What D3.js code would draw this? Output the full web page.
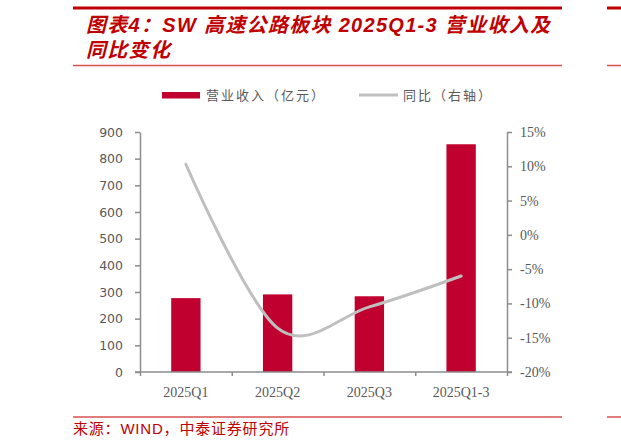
<!DOCTYPE html>
<html lang="zh">
<head>
<meta charset="utf-8">
<title>SW 高速公路板块</title>
<style>
  body { margin: 0; background: #fff; }
  svg { display: block; }
  .axis path, .axis line { fill: none; stroke: #8c8c8c; stroke-width: 1.5; }
</style>
</head>
<body>
<script src="https://cdn.jsdelivr.net/npm/d3@7/dist/d3.min.js"></script>
<script>
// data
var categories = ["2025Q1", "2025Q2", "2025Q3", "2025Q1-3"];
var revenue = [277, 291, 284, 854];          // 营业收入（亿元）
var yoy = [0.103, -0.136, -0.105, -0.060];    // 同比（右轴）
var leftTicks = [0, 100, 200, 300, 400, 500, 600, 700, 800, 900];
var rightTicks = [-0.20, -0.15, -0.10, -0.05, 0, 0.05, 0.10, 0.15];

var W = 621, H = 447;
var x0 = 140, x1 = 507, yTop = 132, yBot = 372;
var red = "#c00000", barRed = "#c0002f", grey = "#bfbfbf", txt = "#595959";

var svg = d3.select("body").append("svg").attr("width", W).attr("height", H);

// header / footer rules
function rule(xa, xb, y, w, c) {
  svg.append("line").attr("x1", xa).attr("x2", xb).attr("y1", y).attr("y2", y)
    .attr("stroke", c).attr("stroke-width", w);
}
rule(73, 562, 8, 3, red);
rule(73, 562, 65.5, 1.5, "#d6504f");
rule(73, 562, 417, 1.5, "#d6504f");
rule(607, 621, 8, 3, red);
rule(607, 621, 65.5, 1.5, "#d6504f");
rule(607, 621, 417, 1.5, "#d6504f");

var titleFont = "'Liberation Sans', 'Noto Sans CJK SC', sans-serif";
svg.append("text").attr("x", 86).attr("y", 32)
  .attr("font-family", titleFont).attr("font-size", 20).attr("font-weight", "bold")
  .attr("font-style", "italic").attr("fill", red).attr("letter-spacing", 1.3)
  .text("图表4：SW 高速公路板块 2025Q1-3 营业收入及");
svg.append("text").attr("x", 86).attr("y", 57)
  .attr("font-family", titleFont).attr("font-size", 20).attr("font-weight", "bold")
  .attr("font-style", "italic").attr("fill", red).attr("letter-spacing", 1.3)
  .text("同比变化");

svg.append("text").attr("x", 73).attr("y", 434)
  .attr("font-family", "'Liberation Sans', 'Noto Sans CJK SC', sans-serif")
  .attr("font-size", 15).attr("letter-spacing", 0.8).attr("fill", red)
  .text("来源：WIND，中泰证券研究所");

// scales
var x = d3.scaleBand().domain(categories).range([x0, x1]).paddingInner(0.68).paddingOuter(0.34);
var xb = d3.scaleLinear().domain([0, categories.length]).range([x0, x1]);
var yL = d3.scaleLinear().domain([0, 900]).range([yBot, yTop]);
var yR = d3.scaleLinear().domain([-0.20, 0.15]).range([yBot, yTop]);

// bars
svg.append("g").selectAll("rect").data(revenue).enter().append("rect")
  .attr("x", function(d, i) { return x(categories[i]); })
  .attr("y", function(d) { return yL(d); })
  .attr("width", x.bandwidth())
  .attr("height", function(d) { return yBot - yL(d); })
  .attr("fill", barRed);

// axes
var gl = svg.append("g").attr("class", "axis").attr("transform", "translate(" + x0 + ",0)")
  .call(d3.axisLeft(yL).tickValues(leftTicks).tickSize(5).tickSizeOuter(0).tickPadding(12));
gl.selectAll("text").attr("font-family", "'DejaVu Sans', sans-serif").attr("font-size", 12.5).attr("fill", txt);

var gr = svg.append("g").attr("class", "axis").attr("transform", "translate(" + x1 + ",0)")
  .call(d3.axisRight(yR).tickValues(rightTicks).tickSize(5).tickSizeOuter(0).tickPadding(8)
    .tickFormat(function(d) { return Math.round(d * 100) + "%"; }));
gr.selectAll("text").attr("font-family", "'Liberation Serif', serif").attr("font-size", 14).attr("fill", txt);

var gb = svg.append("g").attr("class", "axis").attr("transform", "translate(0," + yBot + ")")
  .call(d3.axisBottom(xb).tickValues(d3.range(categories.length + 1)).tickSize(4).tickSizeOuter(0).tickFormat(""));
gb.select("path.domain").attr("d", "M" + (x0 - 5) + ",0H" + (x1 + 5));

svg.append("g").selectAll("text").data(categories).enter().append("text")
  .attr("x", function(d) { return x(d) + x.bandwidth() / 2; })
  .attr("y", yBot + 25)
  .attr("text-anchor", "middle")
  .attr("font-family", "'Liberation Serif', serif").attr("font-size", 14).attr("fill", txt)
  .text(function(d) { return d; });

// yoy line
var line = d3.line()
  .x(function(d, i) { return x(categories[i]) + x.bandwidth() / 2; })
  .y(function(d) { return yR(d); })
  .curve(d3.curveCardinal.tension(0));
svg.append("path").datum(yoy).attr("d", line)
  .attr("fill", "none").attr("stroke", grey).attr("stroke-width", 3).attr("stroke-linecap", "round");

// legend
var lg = svg.append("g");
lg.append("rect").attr("x", 162).attr("y", 92).attr("width", 38).attr("height", 6.5).attr("fill", barRed);
lg.append("text").attr("x", 206).attr("y", 100)
  .attr("font-family", "'Noto Sans CJK SC', sans-serif").attr("font-size", 13).attr("letter-spacing", 2)
  .attr("fill", txt).text("营业收入（亿元）");
lg.append("line").attr("x1", 359).attr("x2", 398).attr("y1", 95).attr("y2", 95)
  .attr("stroke", grey).attr("stroke-width", 3);
lg.append("text").attr("x", 403).attr("y", 100)
  .attr("font-family", "'Noto Sans CJK SC', sans-serif").attr("font-size", 13).attr("letter-spacing", 2)
  .attr("fill", txt).text("同比（右轴）");
</script>
</body>
</html>
